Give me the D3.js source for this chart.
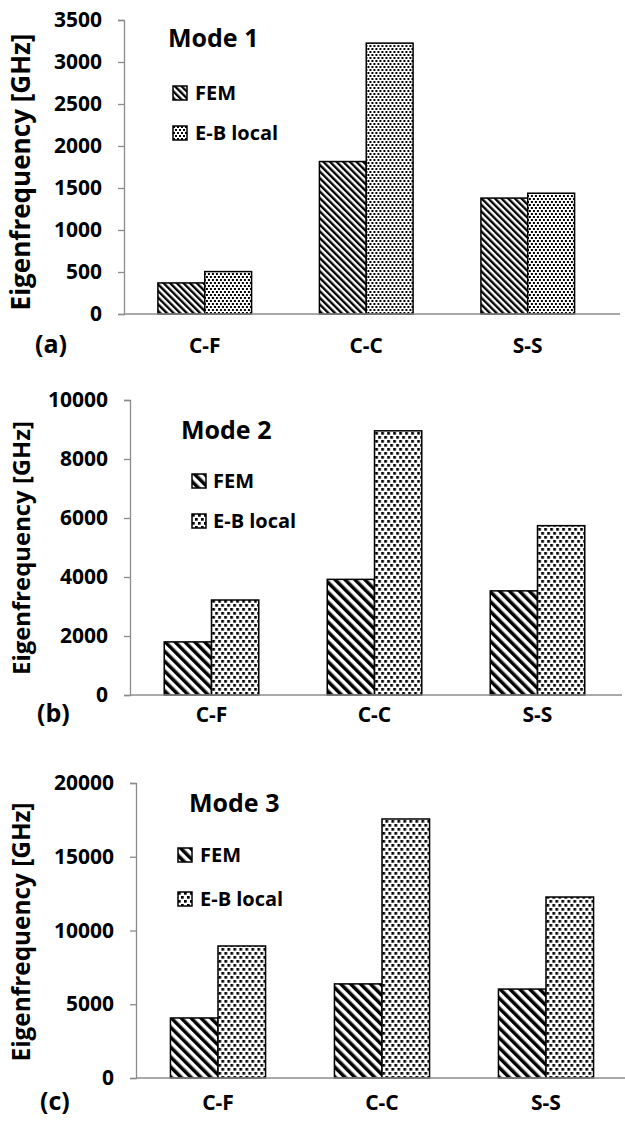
<!DOCTYPE html>
<html>
<head>
<meta charset="utf-8">
<script src="https://cdn.jsdelivr.net/npm/d3@7"></script>
<style>
  body { margin: 0; background: #fff; }
  text { font-family: "Open Sans", Lato, sans-serif; font-weight: bold; fill: #000; }
</style>
</head>
<body>
<svg id="chart" width="625" height="1126"></svg>
<script>
// boundary conditions on the x axis
var categories = ["C-F", "C-C", "S-S"];
var series = ["FEM", "E-B local"];

// eigenfrequencies in GHz
var mode1FEM = [370, 1815, 1380];
var mode1EB  = [505, 3225, 1438];
var mode2FEM = [1800, 3920, 3530];
var mode2EB  = [3220, 8955, 5740];
var mode3FEM = [4070, 6380, 6030];
var mode3EB  = [8950, 17560, 12270];

var mode1Ticks = [0, 500, 1000, 1500, 2000, 2500, 3000, 3500];
var mode2Ticks = [0, 2000, 4000, 6000, 8000, 10000];
var mode3Ticks = [0, 5000, 10000, 15000, 20000];

var svg = d3.select("#chart");
var defs = svg.append("defs");

// hatch patterns, one scale per panel
function makePatterns(id, stripe, dw, dh, s) {
  var p = defs.append("pattern")
      .attr("id", "fem-" + id)
      .attr("patternUnits", "userSpaceOnUse")
      .attr("width", stripe).attr("height", stripe)
      .attr("patternTransform", "rotate(-45)");
  p.append("rect").attr("width", stripe).attr("height", stripe).attr("fill", "#fff");
  p.append("rect").attr("width", stripe * 0.5).attr("height", stripe).attr("fill", "#000");

  // staggered small squares
  var q = defs.append("pattern")
      .attr("id", "eb-" + id)
      .attr("patternUnits", "userSpaceOnUse")
      .attr("width", dw).attr("height", dh);
  q.append("rect").attr("width", dw).attr("height", dh).attr("fill", "#fff");
  q.append("rect").attr("x", 0).attr("y", 0).attr("width", s).attr("height", s).attr("fill", "#000");
  q.append("rect").attr("x", dw / 2).attr("y", dh / 2).attr("width", s).attr("height", s).attr("fill", "#000");
}
makePatterns("a", 4.7, 4, 6, 2);
makePatterns("b", 7, 6, 8, 2.7);
makePatterns("c", 7, 6, 8, 2.7);

var panels = [
  {id: "a", title: "Mode 1", label: "(a)", fem: mode1FEM, eb: mode1EB, ticks: mode1Ticks,
   x0: 124, step: 161.5, yTop: 20, yBottom: 314, xEnd: 620, titleLen: 277, titleY: 172,
   modeX: 168, modeY: 47, legX: 173, legY: 86, legGap: 40, textX: 195,
   labelX: 35, catY: 353},
  {id: "b", title: "Mode 2", label: "(b)", fem: mode2FEM, eb: mode2EB, ticks: mode2Ticks,
   x0: 130, step: 163, yTop: 400, yBottom: 695, xEnd: 622, titleLen: 254, titleY: 548,
   modeX: 181, modeY: 439, legX: 192, legY: 474, legGap: 40, textX: 213,
   labelX: 37, catY: 722},
  {id: "c", title: "Mode 3", label: "(c)", fem: mode3FEM, eb: mode3EB, ticks: mode3Ticks,
   x0: 136, step: 164, yTop: 783, yBottom: 1078, xEnd: 625, titleLen: 259, titleY: 932,
   modeX: 189, modeY: 812, legX: 178, legY: 848, legGap: 44, textX: 200,
   labelX: 40, catY: 1110}
];

panels.forEach(function(p) {
  var g = svg.append("g").attr("class", "panel-" + p.id);

  var x0 = d3.scaleBand()
      .domain(categories)
      .range([p.x0, p.x0 + p.step * categories.length])
      .paddingInner(0.42).paddingOuter(0.21);
  var x1 = d3.scaleBand().domain(series).range([0, x0.bandwidth()]);
  var y = d3.scaleLinear()
      .domain([0, p.ticks[p.ticks.length - 1]])
      .range([p.yBottom, p.yTop]);

  var rows = categories.map(function(c, i) {
    return {cat: c, values: [{s: "FEM", v: p.fem[i]}, {s: "E-B local", v: p.eb[i]}]};
  });

  // y axis
  var yAxis = g.append("g")
      .attr("transform", "translate(" + p.x0 + ",0)")
      .call(d3.axisLeft(y).tickValues(p.ticks).tickSize(6).tickPadding(16).tickFormat(d3.format("d")));
  yAxis.select(".domain").attr("stroke", "#8c8c8c").attr("stroke-width", 1.3);
  yAxis.selectAll(".tick line").attr("stroke", "#8c8c8c").attr("stroke-width", 1.3);
  yAxis.selectAll(".tick text")
      .attr("font-size", 21)
      .attr("font-family", "'Open Sans'")
      .attr("font-weight", "bold")
      .attr("fill", "#000");

  // bars
  g.append("g").selectAll("g")
    .data(rows)
    .enter().append("g")
      .attr("transform", function(d) { return "translate(" + x0(d.cat) + ",0)"; })
    .selectAll("rect")
    .data(function(d) { return d.values; })
    .enter().append("rect")
      .attr("x", function(d) { return x1(d.s); })
      .attr("width", x1.bandwidth())
      .attr("y", function(d) { return y(d.v); })
      .attr("height", function(d) { return y(0) - y(d.v); })
      .attr("fill", function(d) { return d.s === "FEM" ? "url(#fem-" + p.id + ")" : "url(#eb-" + p.id + ")"; })
      .attr("stroke", "#000")
      .attr("stroke-width", 1.5);

  // baseline
  g.append("line")
      .attr("x1", p.x0).attr("x2", p.xEnd)
      .attr("y1", y(0)).attr("y2", y(0))
      .attr("stroke", "#8c8c8c").attr("stroke-width", 1.5);

  // category labels
  g.selectAll(".cat")
    .data(categories)
    .enter().append("text")
      .attr("class", "cat")
      .attr("x", function(d) { return x0(d) + x0.bandwidth() / 2; })
      .attr("y", p.catY)
      .attr("text-anchor", "middle")
      .attr("font-size", 21)
      .text(function(d) { return d; });

  // y title, font size fitted to the length in the figure
  var title = g.append("text")
      .attr("transform", "translate(30," + p.titleY + ") rotate(-90)")
      .attr("text-anchor", "middle")
      .attr("font-size", 20)
      .text("Eigenfrequency [GHz]");
  var len = title.node().getComputedTextLength();
  title.attr("font-size", 20 * p.titleLen / len);

  // panel label
  g.append("text")
      .attr("x", p.labelX).attr("y", p.catY)
      .attr("font-size", 25)
      .text(p.label);

  // mode title
  g.append("text")
      .attr("x", p.modeX).attr("y", p.modeY)
      .attr("font-size", 25)
      .text(p.title);

  // legend
  var leg = g.append("g").selectAll("g")
    .data(series)
    .enter().append("g")
      .attr("transform", function(d, i) { return "translate(" + p.legX + "," + (p.legY + i * p.legGap) + ")"; });
  leg.append("rect")
      .attr("width", 14).attr("height", 14)
      .attr("fill", function(d) { return d === "FEM" ? "url(#fem-" + p.id + ")" : "url(#eb-" + p.id + ")"; })
      .attr("stroke", "#000").attr("stroke-width", 1.5);
  leg.append("text")
      .attr("x", p.textX - p.legX)
      .attr("y", 14)
      .attr("font-size", 20)
      .text(function(d) { return d; });
});
</script>
</body>
</html>
